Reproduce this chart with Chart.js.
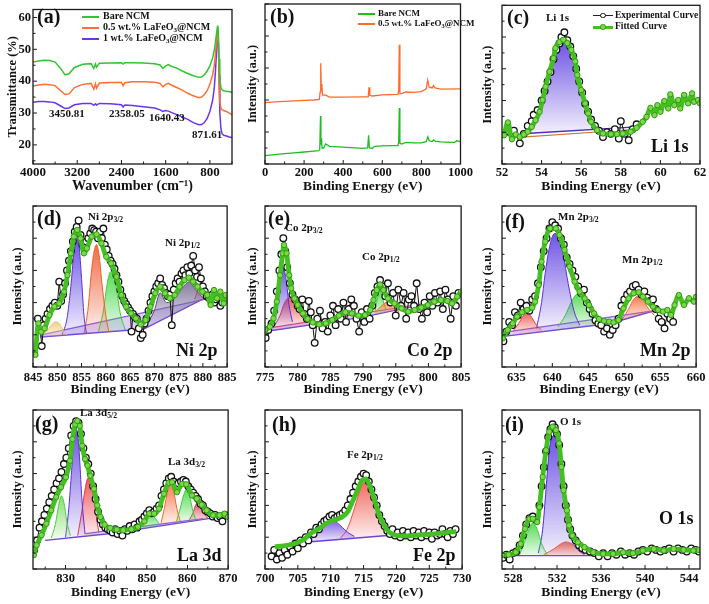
<!DOCTYPE html>
<html><head><meta charset="utf-8">
<script src="https://cdn.jsdelivr.net/npm/chart.js@4.4.1/dist/chart.umd.min.js"></script>
<style>
html,body{margin:0;padding:0;background:#fff;}
body{width:709px;height:604px;position:relative;overflow:hidden;font-family:'Liberation Serif','Times New Roman',serif;font-weight:bold;color:#111;}
canvas{position:absolute;}
.t{position:absolute;white-space:nowrap;line-height:1;}
.t sub{font-size:70%;vertical-align:-0.28em;line-height:0;}
.ln{position:absolute;}
.dot{position:absolute;border-radius:50%;box-sizing:border-box;}
</style></head><body>
<script>
const FONT = "'Liberation Serif','Times New Roman',serif";

// ---------------- (a) FTIR ----------------
const aTicksX = [4000, 3200, 2400, 1600, 800];
const aTicksY = [20, 30, 40, 50, 60];
const aWave = [4000,3900,3800,3700,3600,3500,3420,3350,3250,3100,2950,2900,2870,2850,2800,2600,2400,2370,2340,2200,2000,1800,1700,1650,1600,1550,1500,1400,1300,1200,1100,1000,950,900,850,800,750,720,700,680,665,655,645,635,620,600,580,550,500,450,400];
const aBare = [46.0,46.3,46.6,46.5,46.0,44.0,42.0,42.3,44.3,45.3,45.5,44.0,45.4,44.4,45.6,45.7,45.8,45.4,45.8,45.8,45.7,45.5,45.1,44.0,44.8,45.2,44.7,44.1,43.2,42.4,41.7,41.2,41.3,42.0,43.2,44.8,47.3,49.8,52.2,55.0,57.0,57.5,54.0,47.0,40.5,38.0,37.3,37.0,36.8,36.7,36.5];
const aHalf = [38.5,38.8,39.0,38.9,38.6,37.0,35.8,36.0,38.0,39.0,39.3,37.5,39.2,37.8,39.4,39.6,39.6,38.6,39.5,39.8,39.8,39.7,39.3,38.2,39.0,39.3,38.8,38.0,37.2,36.2,35.4,34.8,35.0,35.8,37.0,39.0,42.0,45.0,48.5,52.5,55.5,55.8,50.0,41.0,33.5,31.5,31.0,30.8,30.5,30.0,29.5];
const aOne = [33.4,33.6,33.6,33.5,33.2,32.2,31.4,31.6,32.6,33.0,33.0,32.4,32.9,32.5,33.0,32.9,32.6,31.9,32.5,32.4,32.0,31.6,31.0,30.5,30.8,30.6,30.2,29.5,28.8,28.0,27.0,26.3,26.4,27.0,28.3,30.5,34.0,38.0,43.0,49.0,53.5,55.5,52.0,42.0,30.0,25.0,23.5,23.0,22.8,22.5,22.3];

// ---------------- (b) XPS survey ----------------
const bTicksX = [0, 200, 400, 600, 800, 1000];
const bBareX = [0,50,100,150,200,250,275,280,284,286,289,292,300,310,330,400,500,525,530,534,550,560,600,650,680,684,687,690,700,720,760,800,825,833,840,855,862,870,900,950,970,980,1000];
const bBareY = [5.2,5.8,6.5,7.0,7.5,8.0,8.3,9,30,12,16,10,10,12.5,11,10.5,9.8,10,18,10,9.8,11,11.3,11.5,11.5,14,35,13,12.5,13.5,13.2,13.2,14,17,14.5,14,15,14.3,13.8,13.5,13.5,14.5,14];
const bHalfX = [0,50,100,150,200,250,278,282,285,288,291,294,310,330,400,500,528,532,536,550,600,680,684,687,690,700,720,760,800,825,832,840,855,862,870,900,1000];
const bHalfY = [38.3,38.8,39.2,39.5,39.8,40,40.3,45,63,46,50,43,43,41.8,41.8,42,42,48,43,42.5,43.2,43.5,46,74.5,44,44,45,44.8,45.2,47,52.4,48,47.5,49,47.5,46.8,47];

// ---------------- (c) Li 1s ----------------
const cTicksX = [52, 54, 56, 58, 60, 62];
const cFitX = [52.1,52.3,52.5,52.7,52.9,53.1,53.3,53.5,53.7,53.9,54.05,54.2,54.4,54.6,54.7,54.9,55.1,55.3,55.5,55.7,55.8,56.0,56.2,56.35,56.5,56.8,57.1,57.5,57.8,58.1,58.5,58.8,59.1,59.3,59.5,59.7,59.85,60.0,60.2,60.4,60.5,60.7,60.9,61.0,61.2,61.4,61.6,61.7,61.9,62.0];
const cFitY = [18.1,26.2,15.6,18.6,17.1,18.6,20.3,23.4,27.6,32.9,40.3,48.7,58.2,66.7,73,76.8,78.3,76.2,71.9,64.6,56.1,46.6,38.2,31.9,26.6,21.3,19.2,18.8,18.8,19.2,20.3,22.8,26.6,29.7,35.4,30.8,37.1,32.9,39.7,35,43.9,37.1,40.3,35,43.5,38.2,44.5,39.2,40.3,38.2];
const cExpX = [52.4,52.6,52.9,53.1,53.3,53.5,53.6,53.8,54.0,54.15,54.3,54.45,54.6,54.75,54.9,55.0,55.15,55.3,55.45,55.6,55.75,55.9,56.05,56.2,56.35,56.5,56.7,56.9,57.1,57.3,57.5,57.7,57.9,58.0,58.2,58.4,58.6,58.8];
const cExpY = [20,21,13,19,24,27,31,34,40,46,52,58,66,72,76,80,83,78,74,68,60,52,45,38,33,28,24,21,17,20,19,22,16,27,19,15,22,25];
const cPeakX = [53.3,53.7,54.0,54.3,54.6,54.9,55.15,55.4,55.7,56.0,56.3,56.6,57.0];
const cPeakY = [20,26,35,51,65,74,77,74,63,46,32,24,21];
const cBaseX = [53.2, 58.8], cBaseY = [19.2, 23.4], cBase2Y = [17.1, 21.9];

// ---------------- (d) Ni 2p ----------------
const dTicksX = [845, 850, 855, 860, 865, 870, 875, 880, 885];
const dFitX = [845.5,846.1,846.7,847.4,848.4,849.4,850.4,851.4,852.1,852.8,853.4,854.1,854.8,855.5,856.1,857.1,858.1,859.1,860.1,861.1,862.2,863.2,864.2,865.2,866.2,867.2,868.2,869.2,870.2,871.2,872.2,873.2,874.2,875.2,876.2,877.1,878.0,878.9,879.9,880.9,881.6,882.3,882.9,883.6,884.3,884.7];
const dFitY = [7.5,27.1,21.9,24.0,32.3,37.5,39.5,46.8,57.1,70.6,81.0,85.1,79.9,70.6,73.7,81.0,82.4,76.8,68.5,64.4,56.1,44.7,37.5,33.3,30.2,26.5,29.2,37.5,45.8,49.9,45.8,42.7,44.7,49.9,54.0,55.5,53.0,49.9,46.8,44.7,38.5,47.8,42.7,46.8,39.5,44.7];
const dExpX = [846.0,846.5,846.8,847.2,847.6,848.0,848.5,849.0,849.5,850.0,850.4,850.8,851.2,851.6,852.0,852.4,852.8,853.2,853.6,854.0,854.4,854.8,855.2,855.6,856.0,856.4,856.8,857.2,857.6,858.0,858.4,858.8,859.2,859.5,859.8,860.2,860.6,861.0,861.4,861.8,862.2,862.6,863.0,863.4,863.8,864.2,864.6,865.0,865.3,865.6,866.0,866.4,866.8,867.2,867.6,868.0,868.4,868.8,869.2,869.6,870.0,870.4,870.8,871.2,871.6,872.0,872.4,872.8,873.2,873.6,874.0,874.4,874.8,875.2,875.6,876.0,876.4,876.8,877.2,877.6,878.0,878.4,878.8,879.2,879.6,880.0,880.4,880.8,881.2,881.6,882.0,882.4,882.8,883.2,883.6,884.0];
const dExpY = [30,24,13,26,30,33,36,38,40,38,53,41,45,52,60,66,72,78,84,87,91,82,76,74,78,80,83,86,85,84,80,84,80,86,76,73,69,66,64,61,57,53,48,44,41,39,37,35,22,33,31,30,24,18,20,27,30,35,40,44,47,50,52,55,51,49,46,44,45,26,48,52,55,53,58,60,57,62,58,63,69,60,56,62,55,50,47,44,43,42,45,40,42,43,38,40];
const dBaseX = [846.5, 867.8, 881.0], dBaseY = [18.6, 23.6, 43.7];
const dBase2X = [846.5, 881.0], dBase2Y = [19.8, 42.5];
const dSatX = [846.8,847.8,848.8,849.6,850.4,851.2,852.0], dSatY = [19,22,26,28,27,23,20];
const dVioX = [851.0,852.0,852.8,853.4,854.0,854.5,855.0,855.5,856.0], dVioY = [20,30,50,70,80,75,55,32,21];
const dRedX = [855.5,856.3,857.0,857.6,858.1,858.6,859.2,860.0,860.6], dRedY = [21,35,58,72,76,70,52,32,22];
const dGrnX = [858.5,859.5,860.3,861.0,861.5,862.2,863.0,864.0], dGrnY = [22,35,52,59,58,48,33,23];
const dGryX = [868.0,870.0,871.2,872.5,874.0,876.0,877.2,878.5,880.0], dGryY = [24,35,46,40,42,50,53,48,43];
const dSmlX = [878.3,879.2,879.7,880.3,880.8], dSmlY = [42,50,53,48,43];

// ---------------- (e) Co 2p ----------------
const eTicksX = [775, 780, 785, 790, 795, 800, 805];
const eFitX = [775.0,775.75,776.3,776.8,777.3,777.7,777.9,778.3,778.7,779.0,779.5,780.0,780.8,781.5,782.3,783.3,784.3,785.3,786.3,787.3,788.3,789.3,790.3,791.1,791.6,792.1,792.6,793.1,793.8,794.8,795.9,796.9,797.9,798.9,799.9,800.9,801.9,802.9,803.6,804.4,805.0];
const eFitY = [23,25,30.2,40.6,57,70.6,75.8,70.6,57,48.9,42.6,38.5,33.3,29.8,27.7,26.5,27.1,29.2,31.9,34,33.3,31.9,32.3,35.4,41.6,47.8,51.3,47.8,42.6,39.5,36.4,34.4,35.4,36.9,38.5,40.6,41.6,41,39.5,43.7,46.8];
const eExpX = [775.1,775.5,776.0,776.4,776.8,777.2,777.5,777.8,778.1,778.4,778.8,779.2,779.6,780.0,780.3,780.7,781.0,781.4,781.7,782.0,782.3,782.6,783.0,783.4,783.8,784.2,784.6,785.0,785.4,785.8,786.2,786.6,787.0,787.4,787.8,788.2,788.6,789.0,789.4,789.8,790.2,790.6,791.0,791.4,791.8,792.2,792.6,793.0,793.4,793.8,794.2,794.6,795.0,795.4,795.8,796.2,796.6,797.0,797.4,797.8,798.2,798.6,799.0,799.4,799.8,800.2,800.6,801.0,801.4,801.8,802.2,802.6,803.0,803.4,803.8,804.2,804.6];
const eExpY = [18,23,27,35,47,60,70,80,72,62,52,45,42,38,36,42,33,30,41,34,26,15,30,35,24,28,22,32,38,26,36,30,40,28,36,42,38,30,22,34,28,36,30,38,46,50,54,50,44,52,40,46,32,48,38,46,30,42,44,38,52,36,30,40,34,44,38,46,40,47,36,48,42,30,44,38,46];
const eBaseX = [775, 790, 805], eBaseY = [22, 31, 44];
const eBase2X = [776, 805], eBase2Y = [24.5, 43];
const eVioX = [776.2,776.8,777.3,777.8,778.2,778.7,779.2], eVioY = [27,38,54,62,55,38,28];
const eRedX = [776.5,777.3,778.0,778.8,779.5,780.3,781.2,782.5], eRedY = [26,32,40,43,39,33,29,26];
const eOrX = [791.8,792.6,793.4,794.0,794.8,795.5], eOrY = [34,37,40,41,37,34];
const eGrnX = [791.8,792.3,792.6,793.0,793.5], eGrnY = [34,44,48,42,36];

// ---------------- (f) Mn 2p ----------------
const fTicksX = [635, 640, 645, 650, 655, 660];
const fFitX = [633.1,633.8,634.5,635.1,635.8,636.5,637.2,637.6,638.1,638.5,639.0,639.7,640.5,641.0,641.7,642.4,643.1,643.8,644.5,645.1,645.8,646.5,647.2,647.9,648.5,649.2,649.9,650.6,651.3,652.0,652.6,653.3,654.0,654.7,655.4,656.0,656.5,657.0,657.6,658.3,659.0,659.7,660.0];
const fFitY = [17.8,23,27.1,31.3,34,35.4,36.9,40.6,50.9,65.4,77.8,86.1,86.1,82,72.7,62.3,53,46.8,42.6,38.5,33.3,29.8,28.6,28.2,27.7,29.2,36.4,42.6,45.8,46.4,43.7,40.6,37.5,35.4,34.4,35.4,32.3,38.5,44.7,38.5,42.7,40.6,43.7];
const fExpX = [633.2,633.6,634.0,634.4,634.8,635.2,635.6,636.0,636.4,636.8,637.2,637.6,638.0,638.4,638.8,639.2,639.6,640.0,640.4,640.8,641.2,641.6,642.0,642.4,642.8,643.2,643.6,644.0,644.4,644.8,645.2,645.6,646.0,646.4,646.8,647.2,647.6,648.0,648.4,648.8,649.2,649.6,650.0,650.4,650.8,651.2,651.6,652.0,652.4,652.8,653.2,653.6,654.0,654.4,654.8,655.2,655.6,656.0,656.4,656.8];
const fExpY = [16,22,28,26,34,32,40,36,38,35,42,44,52,62,72,80,86,90,88,86,80,76,68,64,60,56,50,46,48,40,36,33,29,27,26,22,24,20,23,26,30,38,42,45,47,50,51,48,45,47,43,41,42,36,30,28,24,33,30,28];
const fBaseX = [633.2, 648, 655], fBaseY = [19, 27, 36];
const fBase2X = [633.2, 655], fBase2Y = [21.5, 35.5];
const fRedX = [634.5,635.3,636.0,636.5,637.1,637.8,638.5], fRedY = [22,27,32,34,31,26,23];
const fVioX = [637.8,638.5,639.0,639.5,640.0,640.4,640.9,641.5,642.2,643.0,643.8], fVioY = [24,40,58,72,81,83,80,70,52,35,26];
const fGrnX = [640.8,641.8,642.6,643.3,643.8,644.5,645.3,646.2,647.0], fGrnY = [25,32,40,45,46,43,36,30,27];
const fOrX = [649.8,650.6,651.3,652.0,652.7,653.4,654.2], fOrY = [30,36,42,44,41,36,32];

// ---------------- (g) La 3d ----------------
const gTicksX = [830, 840, 850, 860, 870];
const gFitX = [822.2,822.9,824.1,825.3,826.5,827.7,828.9,830.1,831.1,831.7,832.4,832.9,833.5,834.1,834.8,835.4,836.1,837.0,837.8,838.6,839.6,841.0,842.6,844.2,846.2,847.8,849.4,850.6,851.8,853.0,854.2,855.4,856.2,857.4,858.7,859.7,861.1,862.3,863.5,864.7,866.3,867.9,869.1,870.0];
const gFitY = [8.75,15,21.3,28.5,36.9,45.2,51.5,57.7,68.1,81.7,91,93.1,90,77.5,69.2,65,58.7,50.4,40,32.7,27.9,25.8,24.8,24.4,25,26.5,30,34.8,34.8,37.9,47.3,54.2,54.6,48.3,53.5,53.3,46.3,44.2,40.4,36.9,33.8,33.8,34.8,32.7];
const gExpX = [822.3,823.0,823.6,824.2,824.8,825.4,826.0,826.6,827.2,827.8,828.4,829.0,829.6,830.2,830.8,831.4,832.0,832.6,833.2,833.8,834.4,835.0,835.6,836.2,836.8,837.4,838.0,838.6,839.2,839.8,840.4,841.0,841.6,842.2,842.8,843.4,844.0,844.6,845.2,845.8,846.4,847.0,847.6,848.2,848.8,849.4,850.0,850.6,851.2,851.8,852.4,853.0,853.6,854.2,854.8,855.4,856.0,856.6,857.2,857.8,858.4,859.0,859.6,860.2,860.8,861.4,862.0,862.6,863.2,863.8,864.4,865.0,865.6,866.2,866.8,867.4,868.0,868.6,869.2];
const gExpY = [12,18,26,30,34,38,42,46,50,54,57,61,66,70,76,84,90,93,92,85,76,70,66,60,52,44,36,31,28,26,25,24,23,25,22,24,21,25,24,27,25,28,26,30,31,33,35,37,35,36,38,40,46,50,54,57,58,55,52,54,55,56,55,52,50,48,46,44,41,40,37,36,35,33,34,32,33,30,34];
const gBaseX = [825.0, 840.0, 866.0], gBaseY = [18, 22, 32];
const gBase2X = [834.9, 863.9], gBase2Y = [22.3, 31.7];
const gG1X = [826.5,827.5,828.3,829.0,829.6,830.3,831.2], gG1Y = [19.5,28,40,46,42,30,21];
const gVioX = [830.0,830.8,831.5,832.0,832.5,833.0,833.5,834.0,834.8], gVioY = [20,38,62,80,88,85,68,45,22];
const gRedX = [833.0,834.0,834.8,835.5,836.0,836.6,837.4,838.2], gRedY = [21,36,50,57,57,50,36,23];
const gG2X = [848.5,849.5,850.5,851.2,852.0,853.0], gG2Y = [26,31,34,35,32,29];
const gOrX = [853.5,854.3,855.2,855.9,856.6,857.4,858.2], gOrY = [29,38,50,54,49,38,30];
const gG3X = [857.3,858.2,859.0,859.7,860.4,861.2,862.0], gG3Y = [30,38,46,50,47,38,31];
const gR2X = [860.5,861.3,862.0,862.6,863.3,864.0,865.0], gR2Y = [31,35,40,42,40,35,32];

// ---------------- (h) Fe 2p ----------------
const hTicksX = [700, 705, 710, 715, 720, 725, 730];
const hFitX = [701.5,702.8,704.3,705.8,707.0,708.3,709.5,710.8,711.8,712.6,713.3,714.1,714.8,715.3,715.8,716.6,717.3,718.1,718.8,719.8,721.4,723.4,725.4,727.4,729.1];
const hFitY = [14,14.5,15.7,18.2,22.4,25.6,29.1,31.2,32.9,36.1,42.3,49.7,56,56.6,53.9,44.4,35,27.7,23.5,21.4,20.8,21.4,22,22.9,23.5];
const hExpX = [701.0,701.4,701.8,702.2,702.6,703.0,703.4,703.8,704.2,704.6,705.0,705.4,705.8,706.2,706.6,707.0,707.4,707.8,708.2,708.6,709.0,709.4,709.8,710.2,710.6,711.0,711.4,711.8,712.2,712.6,713.0,713.4,713.8,714.2,714.6,715.0,715.4,715.8,716.2,716.6,717.0,717.4,717.8,718.2,718.6,719.0,719.4,719.8,720.2,720.6,721.0,721.4,721.8,722.2,722.6,723.0,723.4,723.8,724.2,724.6,725.0,725.4,725.8,726.2,726.6,727.0,727.4,727.8,728.2,728.6,729.0];
const hExpY = [8,12,6,10,7,12,9,14,11,16,13,18,16,20,18,23,22,26,25,28,30,31,33,34,32,33,34,35,37,40,44,48,52,55,58,60,59,55,50,45,40,34,30,27,24,22,25,21,23,20,24,21,23,20,24,21,23,20,24,21,23,19,23,21,22,25,22,20,24,22,25];
const hBaseX = [706.5, 720.0], hBaseY = [17, 21.5];
const hVioX = [706.8,707.8,708.8,709.5,710.3,711.0,711.8,712.6,713.6], hVioY = [18,22,27,30,31,29,26,23,20.5];
const hRedX = [711.5,712.5,713.3,714.1,714.8,715.3,715.9,716.6,717.5,718.5,719.5], hRedY = [19.5,25,34,45,53,55,52,42,32,24,21.5];

// ---------------- (i) O 1s ----------------
const iTicksX = [528, 532, 536, 540, 544];
const iFitX = [527.0,527.6,528.25,528.7,529.1,529.5,529.8,530.2,530.4,530.7,531.0,531.3,531.6,531.9,532.2,532.4,532.6,532.9,533.1,533.4,533.9,534.5,535.3,536.2,537.1,538.0,538.9,539.8,540.8,541.7,542.6,543.5,544.4,544.9];
const iFitY = [9,9,10.5,15.8,25.3,31.6,31.6,29.5,38.9,57.9,74.7,86.3,89.5,87.4,79,64.2,49.5,36.8,27.4,21,16.8,13.7,10.5,9.5,9.5,10.5,9.9,11.6,12.6,11.6,12.6,12,11.6,12];
const iExpX = [527.1,527.4,527.7,528.0,528.3,528.6,528.9,529.2,529.5,529.8,530.1,530.4,530.6,530.8,531.0,531.2,531.4,531.6,531.8,532.0,532.2,532.4,532.6,532.8,533.0,533.2,533.4,533.7,534.0,534.3,534.6,535.0,535.4,535.8,536.2,536.6,537.0,537.4,537.8,538.2,538.6,539.0,539.4,539.8,540.2,540.6,541.0,541.4,541.8,542.2,542.6,543.0,543.4,543.8,544.2,544.6,544.9];
const iExpY = [7,9,6,10,11,15,21,28,32,33,31,40,52,64,74,83,88,91,89,85,78,66,52,40,31,25,21,18,15,13,12,11,10,8,10,8,10,9,11,9,10,9,11,12,11,13,12,11,12,13,11,13,12,11,13,12,11];
const iBaseX = [528.2, 535.5], iBaseY = [8.4, 8.4];
const iGrnX = [528.6,529.1,529.5,529.8,530.2,530.6,531.1], iGrnY = [9,18,26,29,25,16,9];
const iVioX = [530.3,530.7,531.0,531.3,531.7,532.0,532.4,532.8,533.2,533.8,534.5], iVioY = [10,25,50,75,84,82,65,40,22,13,9];
const iRedX = [530.8,531.8,532.4,532.8,533.3,534.0,535.0], iRedY = [9,13,16,17,16,12,9];

const xpsTicksY = [0, 20, 40, 60, 80, 100];

// ---------------- helpers ----------------
function P(xs, ys){ return xs.map((x,i)=>({x:x, y:ys[i]})); }
function grad(rgb){
  return function(c){
    const ch=c.chart, ar=ch.chartArea;
    if(!ar || !c.dataset) return 'rgba('+rgb+',0.4)';
    const ys=c.dataset.data.map(p=>p.y);
    const sy=ch.scales.y;
    const t=sy.getPixelForValue(Math.max.apply(null,ys));
    const b=sy.getPixelForValue(Math.min.apply(null,ys));
    const g=ch.ctx.createLinearGradient(0,t,0,b+3);
    g.addColorStop(0,'rgba('+rgb+',0.9)');
    g.addColorStop(1,'rgba('+rgb+',0.06)');
    return g;
  };
}
function line(xs, ys, col, w){ return {data:P(xs,ys), borderColor:col, borderWidth:w||1.2, pointRadius:0, fill:false, clip:0}; }
function fit(xs, ys, dots){ return {data:P(xs,ys), borderColor:'#45c022', borderWidth:4.8, pointRadius:dots===false?0:2.7, pointBackgroundColor:'#7ed84c', pointBorderColor:'#2f9a14', pointBorderWidth:1, cubicInterpolationMode:'monotone', fill:false, clip:0}; }
function expd(xs, ys){ return {data:P(xs,ys), borderColor:'#111', borderWidth:1, pointRadius:3.3, pointBackgroundColor:'#fff', pointBorderColor:'#111', pointBorderWidth:1.3, fill:false, clip:0}; }
function comp(xs, ys, rgb, col, target){ return {data:P(xs,ys), borderColor:col, borderWidth:1, pointRadius:0, cubicInterpolationMode:'monotone', fill:target, backgroundColor:grad(rgb), clip:0}; }

const framePlugin = {
  id:'frame',
  afterDraw(ch){
    const ctx=ch.ctx, a=ch.chartArea;
    ctx.save();
    ctx.strokeStyle='#1a1a1a';
    ctx.lineWidth=1.3;
    ctx.strokeRect(a.left, a.top, a.right-a.left, a.bottom-a.top);
    ctx.lineWidth=1;
    [['x',ch.scales.x],['y',ch.scales.y]].forEach(([ax,s])=>{
      const tv=s.ticks.map(t=>t.value).sort((p,q)=>p-q);
      if(tv.length<2) return;
      const st=(tv[1]-tv[0])/2;
      const lo=Math.min(s.min,s.max), hi=Math.max(s.min,s.max);
      let v=tv[0]-Math.floor((tv[0]-lo)/st+1e-9)*st;
      for(; v<=hi+1e-9; v+=st){
        const major=tv.some(t=>Math.abs(t-v)<1e-6);
        const len=major?4:2.5;
        const p=s.getPixelForValue(v);
        ctx.beginPath();
        if(ax==='x'){ ctx.moveTo(p,a.bottom); ctx.lineTo(p,a.bottom-len); }
        else { ctx.moveTo(a.left,p); ctx.lineTo(a.left+len,p); }
        ctx.stroke();
      }
    });
    ctx.restore();
  }
};

const COLS = [{l:0,w:240,yw:33,pr:8,ytp:10.5},{l:240,w:234,yw:25,pr:10,ytp:5.5},{l:474,w:235,yw:28,pr:9,ytp:6}];
const ROWS = [{t:0,h:200,pt:4,xh:36,xp:1,xtp:5},{t:200,h:204,pt:6,xh:37,xp:3.5,xtp:6},{t:404,h:200,pt:6,xh:35,xp:2.5,xtp:3}];

function panel(col,row,o){
  const C=COLS[col], R=ROWS[row];
  const c=document.createElement('canvas');
  c.width=C.w; c.height=R.h;
  c.style.left=C.l+'px'; c.style.top=R.t+'px';
  c.style.width=C.w+'px'; c.style.height=R.h+'px';
  document.body.appendChild(c);
  const fb = w=>({family:FONT, size:w, weight:'bold'});
  return new Chart(c,{
    type:'line',
    data:{datasets:o.ds},
    options:{
      responsive:false, animation:false, devicePixelRatio:1,
      layout:{padding:{left:0, top:R.pt, right:C.pr, bottom:0}},
      plugins:{legend:{display:false}, tooltip:{enabled:false}},
      scales:{
        x:{type:'linear', min:o.xmin, max:o.xmax, reverse:!!o.rev,
           grid:{display:false, drawTicks:false}, border:{display:false},
           afterBuildTicks:s=>{ s.ticks=o.xt.map(v=>({value:v})); },
           ticks:{font:fb(o.xfs||12.5), color:'#111', padding:R.xp, maxRotation:0, autoSkip:false, callback:v=>String(v)},
           title:{display:true, text:o.xtitle||'Binding Energy (eV)', font:fb(o.xtfs||13.5), color:'#111', padding:{top:0,bottom:R.xtp}},
           afterFit:s=>{ s.height=R.xh; }},
        y:{type:'linear', min:o.ymin===undefined?0:o.ymin, max:o.ymax===undefined?100:o.ymax,
           grid:{display:false, drawTicks:false}, border:{display:false},
           afterBuildTicks:s=>{ s.ticks=(o.yt||xpsTicksY).map(v=>({value:v})); },
           ticks:{display:!!o.ylab, font:fb(12.5), color:'#111', padding:2, callback:v=>String(v)},
           title:{display:true, text:o.ytitle||'Intensity (a.u.)', font:fb(o.ytfs||12.5), color:'#111', padding:{top:(o.ytp===undefined?C.ytp:o.ytp),bottom:0}},
           afterFit:s=>{ s.width=C.yw; }}
      }
    },
    plugins:[framePlugin]
  });
}

// (a)
panel(0,0,{xmin:400,xmax:4000,rev:true,xt:aTicksX,ymin:14,ymax:62.5,yt:aTicksY,ylab:true,xfs:13,xtfs:14,ytfs:12.5,ytp:5.5,
  xtitle:'Wavenumber (cm\u207B\u00B9)', ytitle:'Transmittance (%)',
  ds:[line(aWave,aBare,'#33c433',1.5), line(aWave,aHalf,'#ff6f33',1.5), line(aWave,aOne,'#6a35f0',1.5)]});
// (b)
panel(1,0,{xmin:0,xmax:1000,xt:bTicksX,
  ds:[line(bBareX,bBareY,'#22bb22',1.3), line(bHalfX,bHalfY,'#ff6a2a',1.3)]});
// (c)
panel(2,0,{xmin:52,xmax:62,xt:cTicksX,
  ds:[fit(cFitX,cFitY), expd(cExpX,cExpY),
      comp(cPeakX,cPeakY,'95,65,225','#6040d0',4),
      line(cBaseX,cBase2Y,'#c87a3a',1.2),
      line(cBaseX,cBaseY,'#4a2fb0',1.4)]});
// (d)
panel(0,1,{xmin:845,xmax:885,xt:dTicksX,
  ds:[fit(dFitX,dFitY), expd(dExpX,dExpY),
      comp(dSatX,dSatY,'240,205,130','#e8c070',9),
      comp(dVioX,dVioY,'95,65,225','#5a30d8',9),
      comp(dRedX,dRedY,'240,90,50','#f0602a',9),
      comp(dGrnX,dGrnY,'70,215,70','#3ccc3c',9),
      comp(dGryX,dGryY,'120,110,150','#555070',9),
      comp(dSmlX,dSmlY,'230,50,80','#d8304a',9),
      Object.assign(line(dBase2X,dBase2Y,'#8a5ee0',1.2),{fill:9, backgroundColor:'rgba(160,120,235,0.35)'}),
      line(dBaseX,dBaseY,'#6a3fd8',1.4)]});
// (e)
panel(1,1,{xmin:775,xmax:805,xt:eTicksX,
  ds:[fit(eFitX,eFitY), expd(eExpX,eExpY),
      comp(eVioX,eVioY,'95,65,225','#5a30d8',7),
      comp(eRedX,eRedY,'235,70,70','#e03a3a',7),
      comp(eOrX,eOrY,'245,120,50','#f07030',7),
      comp(eGrnX,eGrnY,'70,215,70','#3ccc3c',7),
      Object.assign(line(eBase2X,eBase2Y,'#d04a8a',1.2),{fill:7, backgroundColor:'rgba(170,110,220,0.35)'}),
      line(eBaseX,eBaseY,'#6a3fd8',1.4)]});
// (f)
panel(2,1,{xmin:633,xmax:660,xt:fTicksX,
  ds:[fit(fFitX,fFitY), expd(fExpX,fExpY),
      comp(fRedX,fRedY,'235,80,70','#e04a40',7),
      comp(fVioX,fVioY,'95,65,225','#5a30d8',7),
      comp(fGrnX,fGrnY,'70,215,70','#3ccc3c',7),
      comp(fOrX,fOrY,'245,110,60','#f06a30',7),
      Object.assign(line(fBase2X,fBase2Y,'#8a5ee0',1.2),{fill:7, backgroundColor:'rgba(160,120,235,0.3)'}),
      line(fBaseX,fBaseY,'#6a3fd8',1.4)]});
// (g)
panel(0,2,{xmin:822,xmax:870,xt:gTicksX,
  ds:[fit(gFitX,gFitY), expd(gExpX,gExpY),
      comp(gG1X,gG1Y,'120,220,90','#50c850',10),
      comp(gVioX,gVioY,'95,65,225','#5a30d8',10),
      comp(gRedX,gRedY,'235,70,80','#e03a4a',10),
      comp(gG2X,gG2Y,'70,215,70','#3ccc3c',10),
      comp(gOrX,gOrY,'245,110,60','#f06a30',10),
      comp(gG3X,gG3Y,'70,215,70','#3ccc3c',10),
      comp(gR2X,gR2Y,'225,60,90','#d8304a',10),
      Object.assign(line(gBase2X,gBase2Y,'#8a5ee0',1.2),{fill:10, backgroundColor:'rgba(160,120,235,0.3)'}),
      line(gBaseX,gBaseY,'#6a3fd8',1.4)]});
// (h)
panel(1,2,{xmin:700,xmax:730,xt:hTicksX,
  ds:[fit(hFitX,hFitY,false), expd(hExpX,hExpY),
      comp(hVioX,hVioY,'110,75,225','#5a30d8',4),
      comp(hRedX,hRedY,'240,90,80','#f0503a',4),
      line(hBaseX,hBaseY,'#6a3fd8',1.4)]});
// (i)
panel(2,2,{xmin:527,xmax:545,xt:iTicksX,
  ds:[fit(iFitX,iFitY), expd(iExpX,iExpY),
      comp(iGrnX,iGrnY,'70,215,70','#3ccc3c',5),
      comp(iVioX,iVioY,'95,65,225','#4a28d8',5),
      comp(iRedX,iRedY,'245,100,60','#f06030',5),
      line(iBaseX,iBaseY,'#6a3fd8',1.4)]});

// ---------------- text overlays ----------------
function lab(html,l,t,size){ const d=document.createElement('div'); d.className='t'; d.innerHTML=html; d.style.left=l+'px'; d.style.top=t+'px'; d.style.fontSize=size+'px'; document.body.appendChild(d); return d; }
function seg(l,t,w,h,col){ const d=document.createElement('div'); d.className='ln'; Object.assign(d.style,{left:l+'px',top:t+'px',width:w+'px',height:h+'px',background:col}); document.body.appendChild(d); }
function dot(cx,cy,r,fill,stroke){ const d=document.createElement('div'); d.className='dot'; Object.assign(d.style,{left:(cx-r)+'px',top:(cy-r)+'px',width:(2*r)+'px',height:(2*r)+'px',background:fill,border:'1.2px solid '+stroke}); document.body.appendChild(d); }

// panel letters
[['(a)',37,6],['(b)',270,6],['(c)',507,7],['(d)',37,208],['(e)',268,208],['(f)',505,211],['(g)',35,413],['(h)',272,414],['(i)',505,414]]
  .forEach(p=>lab(p[0],p[1],p[2],20));

// (a) legend and annotations
seg(82,16,17,2,'#33c433'); lab('Bare NCM',103,11,10);
seg(82,27,17,2,'#ff6f33'); lab('0.5 wt.% LaFeO<sub>3</sub>@NCM',103,22,10);
seg(82,38,17,2,'#6a35f0'); lab('1 wt.% LaFeO<sub>3</sub>@NCM',103,33,10);
lab('3450.81',49,108,11); lab('2358.05',109,108,11); lab('1640.43',149,112,11); lab('871.61',192,129,11);
// (b) legend
seg(358,13,17,2,'#22bb22'); lab('Bare NCM',378,8.5,9);
seg(358,23,17,2,'#ff6a2a'); lab('0.5 wt.% LaFeO<sub>3</sub>@NCM',378,18.5,9);
// (c)
lab('Li 1s',546,12,11);
seg(593,15,20,1.3,'#222'); dot(603,15.6,2.6,'#fff','#111'); lab('Experimental Curve',615,10.5,9.5);
seg(593,26,20,2.5,'#45c022'); dot(603,27,2.8,'#7ed84c','#2f9a14'); lab('Fitted Curve',615,21.5,9.5);
lab('Li 1s',651,137,18);
// (d)-(i)
lab('Ni 2p<sub>3/2</sub>',88,211,11); lab('Ni 2p<sub>1/2</sub>',165,237,11); lab('Ni 2p',176,341,18);
lab('Co 2p<sub>3/2</sub>',285,222,11); lab('Co 2p<sub>1/2</sub>',362,251,11); lab('Co 2p',407,341,18);
lab('Mn 2p<sub>3/2</sub>',558,211,11); lab('Mn 2p<sub>1/2</sub>',622,254,11); lab('Mn 2p',640,341,18);
lab('La 3d<sub>5/2</sub>',80,407,11); lab('La 3d<sub>3/2</sub>',168,456,11); lab('La 3d',177,546,18);
lab('Fe 2p<sub>1/2</sub>',347,449,11); lab('Fe 2p',413,546,18);
lab('O 1s',560,416,11); lab('O 1s',659,509,18);
</script>
</body></html>
